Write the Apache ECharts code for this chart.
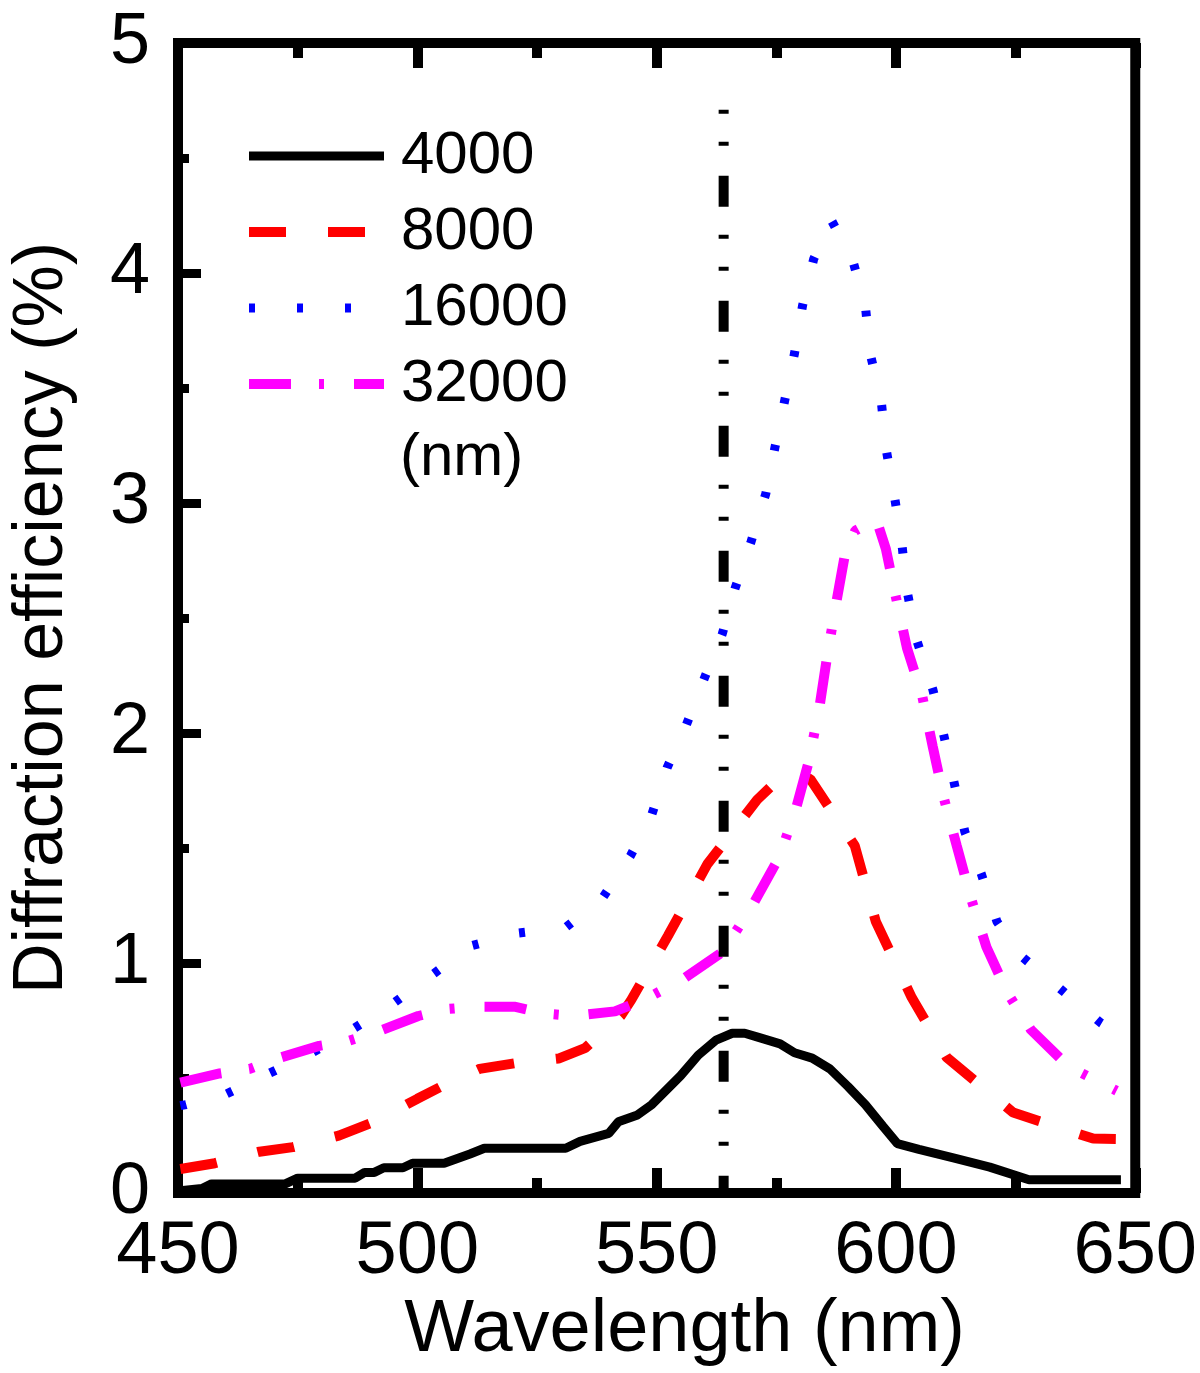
<!DOCTYPE html>
<html>
<head>
<meta charset="utf-8">
<script src="https://cdn.jsdelivr.net/npm/echarts@6/dist/echarts.min.js"></script>
<style>
html,body{margin:0;padding:0;background:#fff}
#chart{width:1200px;height:1373px}
</style>
</head>
<body>
<div id="chart"></div>
<script>
// ---- data ----
const xTickValues = [450, 500, 550, 600, 650];
const yTickValues = [0, 1, 2, 3, 4, 5];
const seriesNames = ['4000', '8000', '16000', '32000'];
const legendUnit = '(nm)';

const wl4000 = [450.5, 455, 457, 472.4, 475, 487, 489, 491, 493, 497, 499, 505.6, 511, 514, 531, 534, 540, 542, 546, 549, 555, 558.7, 562.4, 565.8, 568.4, 571.3, 575.8, 578.8, 582.5, 586.2, 590, 593.6, 597.3, 600.3, 604.8, 612.2, 619.6, 627.8, 647];
const de4000 = [0.01, 0.02, 0.04, 0.04, 0.065, 0.065, 0.09, 0.09, 0.11, 0.11, 0.13, 0.13, 0.17, 0.195, 0.195, 0.225, 0.26, 0.31, 0.34, 0.385, 0.51, 0.60, 0.665, 0.695, 0.695, 0.677, 0.649, 0.61, 0.587, 0.54, 0.463, 0.385, 0.29, 0.215, 0.19, 0.152, 0.113, 0.058, 0.058];

const wl8000 = [450.5, 457.7, 467, 474, 483.6, 491, 500, 505.6, 513, 520.5, 529.5, 535, 542.5, 544.7, 552.4, 560.6, 571, 577, 582.1, 591.4, 595.8, 603.3, 610.6, 624.5, 641.2, 648];
const de8000 = [0.105, 0.13, 0.18, 0.20, 0.25, 0.31, 0.41, 0.47, 0.54, 0.565, 0.585, 0.63, 0.77, 0.84, 1.12, 1.43, 1.71, 1.83, 1.80, 1.51, 1.18, 0.85, 0.59, 0.35, 0.237, 0.235];

const wl16000 = [450.5, 451.7, 460, 469, 478, 486.3, 495, 511.4, 521, 531, 538.6, 544.5, 548.9, 552.2, 556.1, 560, 563.7, 566.4, 569.7, 572.8, 574.7, 576.8, 578.8, 580.5, 582.8, 586.5, 590.9, 593.6, 594.6, 596.9, 597.9, 599.6, 601.2, 602.3, 604.4, 607.7, 610, 612.2, 614.4, 617.8, 621.1, 626.2, 642.8, 646];
const de16000 = [0.38, 0.385, 0.43, 0.52, 0.61, 0.71, 0.825, 1.076, 1.13, 1.155, 1.28, 1.465, 1.64, 1.85, 2.03, 2.24, 2.43, 2.63, 2.83, 3.04, 3.24, 3.45, 3.65, 3.86, 4.06, 4.23, 4.06, 3.86, 3.65, 3.45, 3.24, 3.04, 2.83, 2.62, 2.40, 2.19, 1.99, 1.78, 1.57, 1.39, 1.18, 1.03, 0.74, 0.70];

const wl32000 = [450.5, 458.7, 465, 470.7, 479.5, 485.3, 491.5, 500.2, 506, 512, 520.5, 526.8, 532.6, 541.3, 547.3, 555.5, 563.9, 570, 575.6, 579.1, 581.7, 584, 585.6, 587.3, 589.2, 591.5, 595.9, 597.9, 600, 602.3, 605.5, 607.7, 610.1, 612.7, 615.7, 618.9, 623.3, 628.2, 636.1, 646.1];
const de32000 = [0.48, 0.52, 0.54, 0.585, 0.64, 0.66, 0.70, 0.77, 0.80, 0.81, 0.81, 0.78, 0.77, 0.79, 0.84, 0.93, 1.05, 1.25, 1.46, 1.67, 1.87, 2.11, 2.33, 2.54, 2.76, 2.88, 2.93, 2.80, 2.59, 2.37, 2.16, 1.94, 1.71, 1.51, 1.28, 1.07, 0.87, 0.71, 0.55, 0.445];

// vertical dash-dot marker line
const markerWl = [564, 564];
const markerDe = [4.71, 0];

// ---- chart ----
const FONT = '"Liberation Sans", Arial, Helvetica, sans-serif';
const pairs = (xs, ys) => xs.map((x, i) => [x, ys[i]]);

const tickStyle = { color: '#000', width: 10 };
const xAxisBase = {
  type: 'value', min: xTickValues[0], max: xTickValues[xTickValues.length - 1],
  interval: xTickValues[1] - xTickValues[0],
  axisLine: { show: false },
  axisTick: { show: true, inside: true, length: 25, lineStyle: tickStyle },
  minorTick: { show: true, splitNumber: 2, length: 15, lineStyle: tickStyle },
  splitLine: { show: false }, minorSplitLine: { show: false }
};

const chart = echarts.init(document.getElementById('chart'), null, { renderer: 'canvas' });
chart.setOption({
  animation: false,
  backgroundColor: '#ffffff',
  grid: { left: 177, right: 63, top: 43, bottom: 176, show: true, borderWidth: 10, borderColor: '#000', backgroundColor: 'transparent' },
  xAxis: [
    Object.assign({}, xAxisBase, {
      position: 'bottom',
      axisLabel: { show: true, fontSize: 74, fontFamily: FONT, color: '#000', margin: 22 },
      name: 'Wavelength (nm)', nameLocation: 'middle', nameGap: 92,
      nameTextStyle: { fontSize: 74, fontFamily: FONT, color: '#000', padding: [0, 0, 0, 56] }
    }),
    Object.assign({}, xAxisBase, { position: 'top', axisLabel: { show: false } })
  ],
  yAxis: [{
    type: 'value', min: yTickValues[0], max: yTickValues[yTickValues.length - 1], interval: 1,
    position: 'left',
    axisLine: { show: false },
    axisTick: { show: true, inside: true, length: 23, lineStyle: { color: '#000', width: 9 } },
    minorTick: { show: true, splitNumber: 2, length: 11, lineStyle: { color: '#000', width: 9 } },
    splitLine: { show: false },
    axisLabel: { fontSize: 72, fontFamily: FONT, color: '#000', margin: 28 },
    name: 'Diffraction efficiency (%)', nameLocation: 'middle', nameGap: 100, nameRotate: 90,
    nameTextStyle: { fontSize: 70, fontFamily: FONT, color: '#000' }
  }],
  legend: {
    data: seriesNames, orient: 'vertical', left: 244, top: 126, padding: 0,
    itemWidth: 135, itemHeight: 20, itemGap: 16,
    itemStyle: { opacity: 0 },
    lineStyle: { width: 'inherit', type: 'inherit' },
    textStyle: { fontSize: 60, fontFamily: FONT, color: '#000', lineHeight: 60, padding: [0, 0, 0, 12] },
    selectedMode: false
  },
  graphic: [{
    type: 'text', x: 400, y: 458,
    style: { text: legendUnit, fontSize: 60, fontFamily: FONT, fill: '#000', verticalAlign: 'middle' }
  }],
  series: [
    { name: seriesNames[0], type: 'line', data: pairs(wl4000, de4000), symbol: 'none', showSymbol: false,
      lineStyle: { color: '#000000', width: 9 }, itemStyle: { color: '#000000' }, z: 3 },
    { name: seriesNames[1], type: 'line', data: pairs(wl8000, de8000), symbol: 'none', showSymbol: false,
      lineStyle: { color: '#ff0000', width: 10, type: [37, 42] }, itemStyle: { color: '#ff0000' }, z: 4 },
    { name: seriesNames[2], type: 'line', data: pairs(wl16000, de16000), symbol: 'none', showSymbol: false,
      lineStyle: { color: '#0000ff', width: 9, type: [6, 42] }, itemStyle: { color: '#0000ff' }, z: 5 },
    { name: seriesNames[3], type: 'line', data: pairs(wl32000, de32000), symbol: 'none', showSymbol: false,
      lineStyle: { color: '#ff00ff', width: 10, type: [42, 28, 5, 30] }, itemStyle: { color: '#ff00ff' }, z: 6 },
    { name: 'marker', type: 'line', data: pairs(markerWl, markerDe), symbol: 'none', showSymbol: false,
      lineStyle: { color: '#000000', width: 10, type: [4, 28, 4, 30, 31, 28] }, itemStyle: { color: '#000' }, z: 7 }
  ]
});
</script>
</body>
</html>
